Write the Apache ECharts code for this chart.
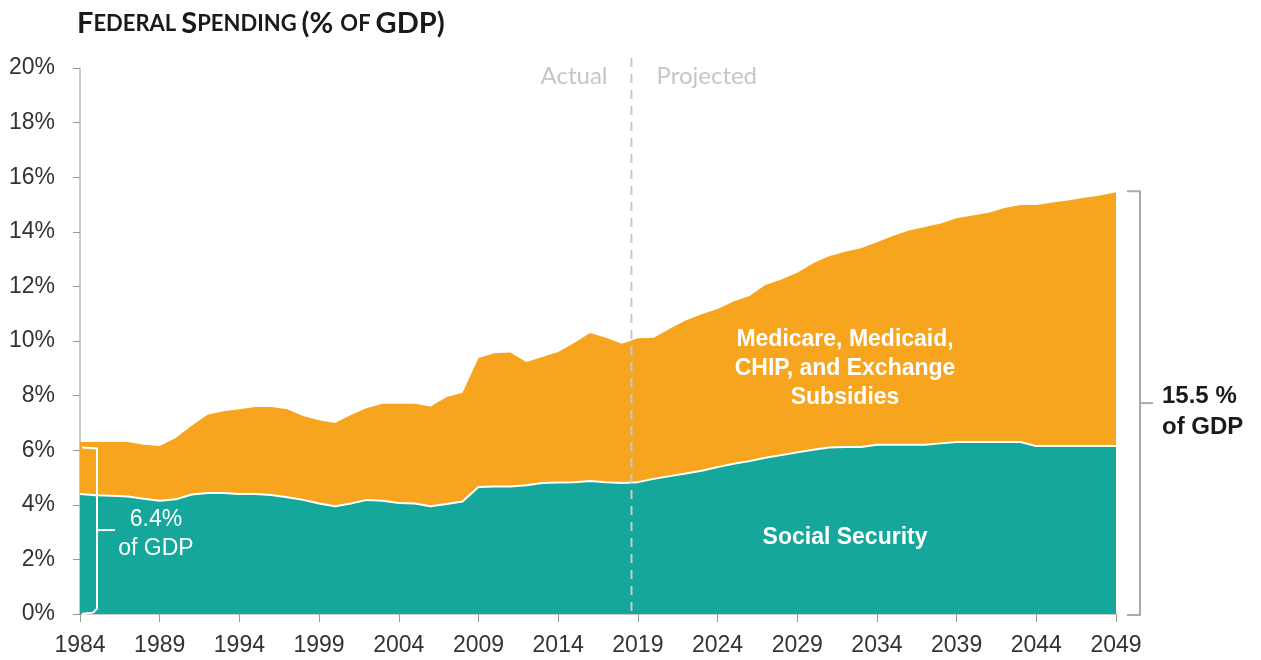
<!DOCTYPE html>
<html><head><meta charset="utf-8">
<script src="https://cdn.jsdelivr.net/npm/echarts@6/dist/echarts.min.js"></script>
<style>html,body{margin:0;padding:0;background:#fff}#c{width:1261px;height:660px}</style>
</head><body><div id="c"></div>
<script>
const years = ['1984','1985','1986','1987','1988','1989','1990','1991','1992','1993','1994','1995','1996','1997','1998','1999','2000','2001','2002','2003','2004','2005','2006','2007','2008','2009','2010','2011','2012','2013','2014','2015','2016','2017','2018','2019','2020','2021','2022','2023','2024','2025','2026','2027','2028','2029','2030','2031','2032','2033','2034','2035','2036','2037','2038','2039','2040','2041','2042','2043','2044','2045','2046','2047','2048','2049'];
const socialSecurity = [4.4,4.35,4.33,4.3,4.22,4.15,4.2,4.38,4.43,4.43,4.4,4.4,4.36,4.28,4.18,4.05,3.95,4.05,4.18,4.15,4.07,4.05,3.95,4.03,4.12,4.65,4.67,4.67,4.72,4.8,4.82,4.83,4.87,4.83,4.8,4.83,4.95,5.05,5.15,5.25,5.38,5.5,5.6,5.72,5.82,5.92,6.02,6.1,6.12,6.12,6.2,6.2,6.2,6.2,6.25,6.3,6.3,6.3,6.3,6.3,6.15,6.15,6.15,6.15,6.15,6.15];
const healthPrograms = [1.9,1.95,1.97,2.0,1.98,2.0,2.25,2.52,2.87,3.0,3.1,3.18,3.22,3.22,3.07,3.05,3.05,3.24,3.37,3.55,3.63,3.65,3.65,3.92,3.98,4.73,4.88,4.91,4.51,4.61,4.78,5.1,5.42,5.29,5.1,5.27,5.17,5.4,5.6,5.73,5.79,5.95,6.05,6.33,6.43,6.58,6.83,7.0,7.15,7.28,7.42,7.65,7.85,7.98,8.05,8.2,8.3,8.4,8.57,8.68,8.83,8.92,9.0,9.1,9.18,9.3];
const yTicks = [0,2,4,6,8,10,12,14,16,18,20];
const startShare = '6.4%';
const endShare = '15.5 %';
const projectionStart = 2018.6;

const TEAL = '#16A79C', ORANGE = '#F7A51E';
const FONT = '"Liberation Sans", Arial, sans-serif';
const chart = echarts.init(document.getElementById('c'));
chart.setOption({
  animation: false,
  grid: {left: 80, right: 145, top: 68, bottom: 46},
  title: {
    left: 72, top: 4,
    text: '{b|F}{s|EDERAL} {b|S}{s|PENDING} {b|(% }{s|OF} {b|GDP)}',
    textStyle: {
      rich: {
        b: {fontFamily: 'Lato', fontWeight: 'bold', fontSize: 29, color: '#1a1a1a'},
        s: {fontFamily: 'Lato', fontWeight: 'bold', fontSize: 22, color: '#1a1a1a'}
      }
    }
  },
  xAxis: {
    type: 'category', data: years, boundaryGap: false,
    axisLine: {lineStyle: {color: '#bbb', width: 1.5}},
    axisTick: {interval: 4, length: 8, lineStyle: {color: '#999'}},
    axisLabel: {interval: 4, margin: 20, fontFamily: FONT, fontSize: 23, color: '#333'},
    splitLine: {show: false}
  },
  yAxis: {
    type: 'value', min: yTicks[0], max: yTicks[yTicks.length-1], interval: 2,
    axisLine: {show: true, lineStyle: {color: '#bbb', width: 1.5}},
    axisTick: {show: true, length: 7, lineStyle: {color: '#999'}},
    axisLabel: {margin: 25, fontFamily: FONT, fontSize: 23, color: '#333', formatter: v => v + '%'},
    splitLine: {show: false}
  },
  series: [
    {name: 'Social Security', type: 'line', stack: 'total', data: socialSecurity, z: 3,
     showSymbol: false, symbol: 'none', lineStyle: {color: '#fff', width: 2},
     areaStyle: {color: TEAL, opacity: 1}},
    {name: 'Medicare, Medicaid, CHIP, and Exchange Subsidies', type: 'line', stack: 'total', data: healthPrograms, z: 2,
     showSymbol: false, symbol: 'none', lineStyle: {width: 0, color: ORANGE},
     areaStyle: {color: ORANGE, opacity: 1}}
  ]
});

function px(idx, v) { return chart.convertToPixel({xAxisIndex: 0, yAxisIndex: 0}, [idx, v]); }
const n = years.length;
const i0 = projectionStart - Number(years[0]);
const a = px(Math.floor(i0), 0), b = px(Math.floor(i0) + 1, 0);
const xDiv = a[0] + (b[0] - a[0]) * (i0 - Math.floor(i0));
const yBase = a[1];
const yTop = px(0, 20)[1];
const first = px(0, 6.1), firstBase = px(0, 0.05);
const lastTotal = socialSecurity[n-1] + healthPrograms[n-1];
const last = px(n-1, lastTotal), lastBase = px(n-1, 0);
const midL = (first[1] + firstBase[1]) / 2;
const midR = (last[1] + lastBase[1]) / 2;
const medPos = px(47.7, 9.0), ssPos = px(48.2, 2.78);

chart.setOption({
  graphic: [
    {type: 'line', z: 10, shape: {x1: xDiv, y1: yTop - 10, x2: xDiv, y2: yBase},
     style: {stroke: '#c8c8c8', lineWidth: 2, lineDash: [9, 7]}},
    {type: 'text', z: 10, x: xDiv - 24, y: yTop + 8, style: {text: 'Actual', align: 'right', verticalAlign: 'middle', fontFamily: 'Lato', fontSize: 24, fill: '#c6c6c6'}},
    {type: 'text', z: 10, x: xDiv + 25, y: yTop + 8, style: {text: 'Projected', align: 'left', verticalAlign: 'middle', fontFamily: 'Lato', fontSize: 24, fill: '#c6c6c6'}},
    {type: 'polyline', z: 10, shape: {points: [[first[0] + 2, first[1]], [first[0] + 17, first[1] + 1], [first[0] + 17, firstBase[1] - 4], [first[0] + 13, firstBase[1]], [first[0] + 2, firstBase[1] + 1]]},
     style: {stroke: '#fff', lineWidth: 2, fill: null}},
    {type: 'line', z: 10, shape: {x1: first[0] + 17, y1: midL, x2: first[0] + 35, y2: midL}, style: {stroke: '#fff', lineWidth: 2}},
    {type: 'text', z: 10, x: first[0] + 76, y: midL - 10, style: {text: startShare, align: 'center', verticalAlign: 'middle', fontFamily: FONT, fontSize: 23, fill: '#fff'}},
    {type: 'text', z: 10, x: first[0] + 76, y: midL + 19, style: {text: 'of GDP', align: 'center', verticalAlign: 'middle', fontFamily: FONT, fontSize: 23, fill: '#fff'}},
    {type: 'polyline', z: 10, shape: {points: [[last[0] + 11, last[1] - 1], [last[0] + 24, last[1] - 1], [last[0] + 24, lastBase[1] + 1], [last[0] + 11, lastBase[1] + 1]]},
     style: {stroke: '#aaa', lineWidth: 2, fill: null}},
    {type: 'line', z: 10, shape: {x1: last[0] + 24, y1: midR, x2: last[0] + 37, y2: midR}, style: {stroke: '#aaa', lineWidth: 2}},
    {type: 'text', z: 10, x: last[0] + 46, y: midR - 7, style: {text: endShare, align: 'left', verticalAlign: 'middle', fontFamily: FONT, fontWeight: 'bold', fontSize: 24, fill: '#1a1a1a'}},
    {type: 'text', z: 10, x: last[0] + 46, y: midR + 24, style: {text: 'of GDP', align: 'left', verticalAlign: 'middle', fontFamily: FONT, fontWeight: 'bold', fontSize: 24, fill: '#1a1a1a'}},
    {type: 'text', z: 10, x: medPos[0], y: medPos[1], style: {text: 'Medicare, Medicaid,\nCHIP, and Exchange\nSubsidies', align: 'center', verticalAlign: 'middle', lineHeight: 29, fontFamily: FONT, fontWeight: 'bold', fontSize: 23, fill: '#fff'}},
    {type: 'text', z: 10, x: ssPos[0], y: ssPos[1], style: {text: 'Social Security', align: 'center', verticalAlign: 'middle', fontFamily: FONT, fontWeight: 'bold', fontSize: 23, fill: '#fff'}}
  ]
});
</script>
</body></html>
